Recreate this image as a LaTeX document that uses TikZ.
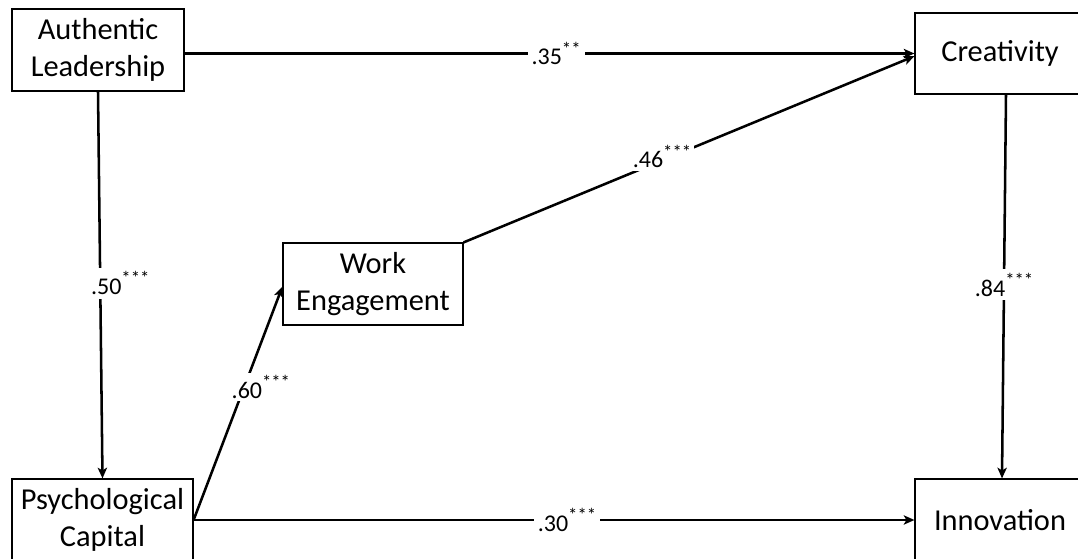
\documentclass[tikz,border=0pt]{standalone}
\usepackage{fontspec}
\setmainfont{Carlito}
\usetikzlibrary{arrows.meta}
\newcommand\sigstars[1]{\raisebox{0.4em}{\fontsize{14}{14}\selectfont #1}}
\tikzset{
  box/.style={draw, line width=0.9pt, inner sep=0pt, align=center,
    font=\fontsize{22.8}{28}\selectfont},
  conn/.style={line width=1.9pt, -{Stealth[length=8pt,width=7pt,inset=2pt]}},
  lab/.style={fill=white, inner sep=3pt, font=\fontsize{18}{19}\selectfont}
}
\begin{document}
\begin{tikzpicture}[x=0.75pt, y=-0.75pt]
\clip (0,0) rectangle (1078,559);
\fill[white] (0,0) rectangle (1078,559);
\node[box, minimum width=172*0.75pt, minimum height=82*0.75pt] (AL) at (98,50) {Authentic\\Leadership};
\node[box, minimum width=170*0.75pt, minimum height=81*0.75pt] (C) at (1000,53.5) {Creativity};
\node[box, minimum width=181*0.75pt, minimum height=82*0.75pt] (PC) at (102.5,520) {Psychological\\Capital};
\node[box, minimum width=170*0.75pt, minimum height=82*0.75pt] (I) at (1000,520) {Innovation};
\node[box, minimum width=180*0.75pt, minimum height=82*0.75pt] (WE) at (373,284) {Work\\Engagement};

\draw[conn] (AL.east |- C.west) -- node[lab, pos=0.509] {.35\sigstars{**}} (C.west);
\draw[conn] (AL.south) -- node[lab, pos=0.495, xshift=15pt] {.50\sigstars{***}} (PC.north);
\draw[conn] ([xshift=4.5pt]C.south) -- node[lab, pos=0.496] {.84\sigstars{***}} ([xshift=1.5pt]I.north);
\draw[conn] (PC.east) -- node[lab, pos=0.518] {.30\sigstars{***}} (I.west);
\draw[conn] (PC.east) -- node[lab, pos=0.57, xshift=12.5pt, inner sep=2pt] {.60\sigstars{***}} ([yshift=-2pt]WE.west);
\draw[conn] (WE.north east) -- node[lab, pos=0.44, yshift=3pt, inner sep=2pt] {.46\sigstars{***}} ([yshift=-2pt]C.west);
\end{tikzpicture}
\end{document}
